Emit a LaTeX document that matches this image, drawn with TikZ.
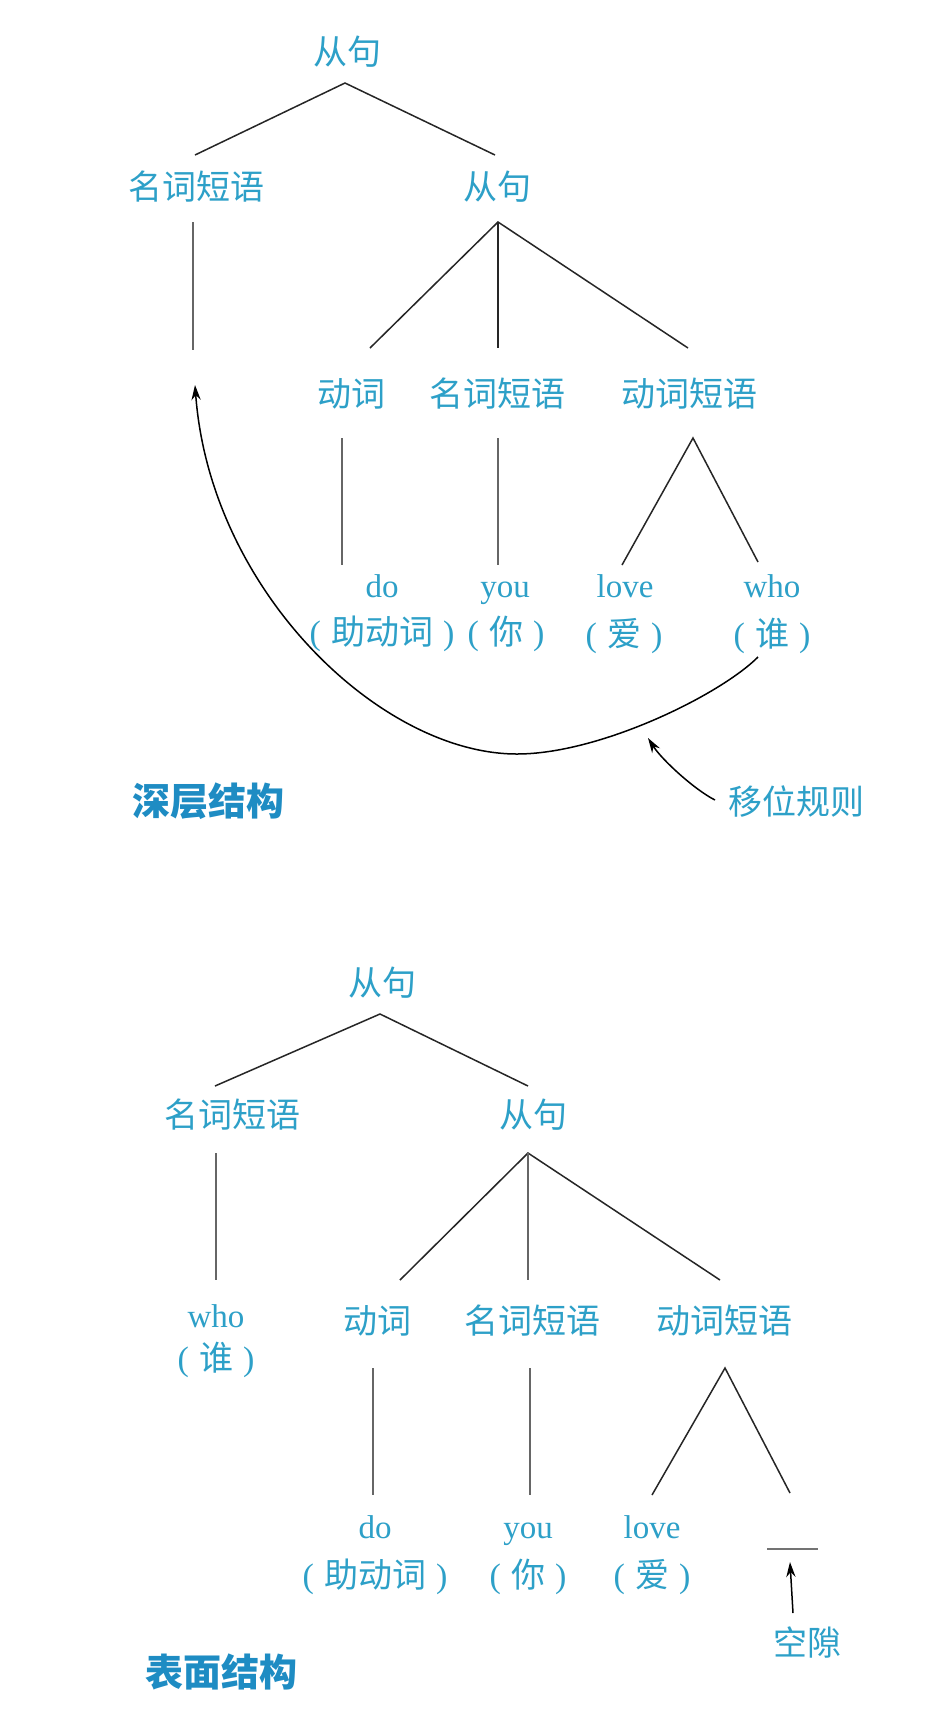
\documentclass[tikz,border=0pt]{standalone}
\usepackage{fontspec}
\setmainfont{Liberation Serif}
\newfontfamily\cjk{Noto Sans CJK SC}
\usetikzlibrary{arrows.meta}
\definecolor{txtc}{RGB}{45,160,200}
\definecolor{ttlc}{RGB}{30,140,195}
\newcommand{\parz}[1]{(\hspace{5pt}{\cjk #1}\hspace{5pt})}
\begin{document}
\begin{tikzpicture}[x=0.5pt,y=-0.5pt,
  cn/.style={inner sep=0pt, text=txtc, font=\cjk\fontsize{17pt}{20pt}\selectfont, anchor=center},
  ln/.style={inner sep=0pt, text=txtc, font=\fontsize{16.5pt}{20pt}\selectfont, anchor=base},
  pn/.style={inner sep=0pt, text=txtc, font=\fontsize{17pt}{20pt}\selectfont, anchor=center},
  ttl/.style={inner sep=0pt, text=ttlc, font=\cjk\bfseries\fontsize{19pt}{22pt}\selectfont},
  br/.style={line width=0.75pt, draw=black!85},
  vl/.style={line width=0.6pt, draw=black!60},
  arr/.style={line width=0.75pt, draw=black, -{Stealth[length=7.5pt,width=4.6pt]}}]
\fill[white] (0,0) rectangle (928,1730);
\useasboundingbox (0,0) rectangle (928,1730);

% ---------- deep structure ----------
\node[cn] (s1) at (347,52) {从句};
\node[cn] (np1) at (196,187) {名词短语};
\node[cn] (s2) at (497,187) {从句};
\node[cn] (v1) at (351,394) {动词};
\node[cn] (np2) at (497,394) {名词短语};
\node[cn] (vp1) at (689,394) {动词短语};
\node[ln] (do1) at (382,597) {do};
\node[pn] (do1z) at (382,634) {\parz{助动词}};
\node[ln] (you1) at (505,597) {you};
\node[pn] (you1z) at (506,634) {\parz{你}};
\node[ln] (love1) at (625,597) {love};
\node[pn] (love1z) at (624,636) {\parz{爱}};
\node[ln] (who1) at (772,597) {who};
\node[pn] (who1z) at (772,636) {\parz{谁}};
\node[ttl] (deep) at (208,801) {深层结构};
\node[cn] (rule) at (796,802) {移位规则};

\coordinate (a1) at (345,83);
\coordinate (a1l) at (195,155);
\coordinate (a1r) at (495,155);
\coordinate (np1b) at (193,222);
\coordinate (np1e) at (193,350);
\coordinate (a2) at (498,222);
\coordinate (a2l) at (370,348);
\coordinate (a2m) at (498,348);
\coordinate (a2r) at (688,348);
\coordinate (v1t) at (342,438);
\coordinate (v1e) at (342,565);
\coordinate (np2t) at (498,438);
\coordinate (np2e) at (498,565);
\coordinate (a3) at (693,438);
\coordinate (a3l) at (622,565);
\coordinate (a3r) at (758,562);
\coordinate (mvs) at (758,657);
\coordinate (mvb) at (517,754);
\coordinate (mvt) at (195,385);
\coordinate (rulet) at (715,800);
\coordinate (ruleh) at (648,738);

\draw[br] (a1l) -- (a1) -- (a1r);
\draw[vl] (np1b) -- (np1e);
\draw[br] (a2l) -- (a2) -- (a2r);
\draw[br] (a2) -- (a2m);
\draw[vl] (v1t) -- (v1e);
\draw[vl] (np2t) -- (np2e);
\draw[br] (a3l) -- (a3) -- (a3r);
\draw[arr] (mvs) .. controls (720,695) and (600,754) .. (mvb)
  .. controls (380,754) and (210,590) .. (mvt);
\draw[arr] (rulet) .. controls (695,790) and (662,760) .. (ruleh);

% ---------- surface structure ----------
\node[cn] (s3) at (382,983) {从句};
\node[cn] (np3) at (232,1115) {名词短语};
\node[cn] (s4) at (533,1115) {从句};
\node[ln] (who2) at (216,1327) {who};
\node[pn] (who2z) at (216,1360) {\parz{谁}};
\node[cn] (v2) at (377,1321) {动词};
\node[cn] (np4) at (532,1321) {名词短语};
\node[cn] (vp2) at (724,1321) {动词短语};
\node[ln] (do2) at (375,1538) {do};
\node[pn] (do2z) at (375,1577) {\parz{助动词}};
\node[ln] (you2) at (528,1538) {you};
\node[pn] (you2z) at (528,1577) {\parz{你}};
\node[ln] (love2) at (652,1538) {love};
\node[pn] (love2z) at (652,1577) {\parz{爱}};
\node[cn] (gaplbl) at (807,1642) {空隙};
\node[ttl] (surf) at (221,1672) {表面结构};

\coordinate (b1) at (380,1014);
\coordinate (b1l) at (215,1086);
\coordinate (b1r) at (528,1086);
\coordinate (np3b) at (216,1153);
\coordinate (np3e) at (216,1280);
\coordinate (b2) at (528,1153);
\coordinate (b2l) at (400,1280);
\coordinate (b2m) at (528,1280);
\coordinate (b2r) at (720,1280);
\coordinate (v2t) at (373,1368);
\coordinate (v2e) at (373,1495);
\coordinate (np4t) at (530,1368);
\coordinate (np4e) at (530,1495);
\coordinate (b3) at (725,1368);
\coordinate (b3l) at (652,1495);
\coordinate (b3r) at (790,1493);
\coordinate (gapl) at (767,1549);
\coordinate (gapr) at (818,1549);
\coordinate (gapt) at (793,1613);
\coordinate (gaph) at (790,1562);

\draw[br] (b1l) -- (b1) -- (b1r);
\draw[vl] (np3b) -- (np3e);
\draw[br] (b2l) -- (b2) -- (b2r);
\draw[vl] (b2) -- (b2m);
\draw[vl] (v2t) -- (v2e);
\draw[vl] (np4t) -- (np4e);
\draw[br] (b3l) -- (b3) -- (b3r);
\draw[line width=1pt, draw=black!55] (gapl) -- (gapr);
\draw[arr] (gapt) -- (gaph);
\end{tikzpicture}
\end{document}
